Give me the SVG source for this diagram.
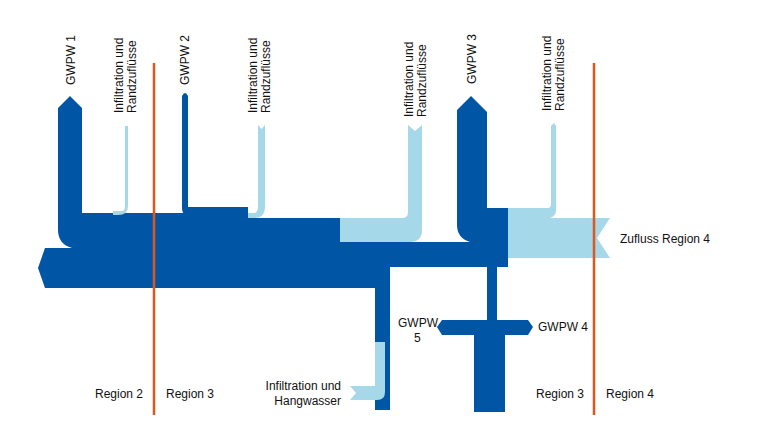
<svg xmlns="http://www.w3.org/2000/svg" width="760" height="440" viewBox="0 0 760 440">
<style>
.d{fill:#0055a4}.l{fill:#a5d8e8}.r{stroke:#e0561f;stroke-width:2.5}
text{font-family:"Liberation Sans",Arial,sans-serif;font-size:12px;fill:#111}
</style>
<rect width="760" height="440" fill="#fff"/>
<g id="flows">
<path class="d" d="M58 108 L70 96 L82 108 L82 213 L248 213 L248 218 L340 218 L340 242 L508 242 L508 267 L390 267 L390 288 L45 288 L38 268 L45 248 L72 248 Q58 244 58 230 Z"/>
<path class="d" d="M390 267 L390 410 L375 410 L375 282 Q375 270 365 267 Z"/>
<path class="d" d="M182 96 Q185 90 188 96 L188 207 L248 207 L248 218 L195 218 Q182 218 182 208 Z"/>
<path class="l" d="M125 126 L128 126 L128 206 Q128 215 118 215 L113 215 L113 211 L122 211 Q125 211 125 206 Z"/>
<path class="l" d="M258 125 L261.5 129 L265 125 L265 206 Q265 218 255 218 L248 218 L248 213 L254 213 Q258 213 258 206 Z"/>
<path class="l" d="M408 125 L415 131 L422 125 L422 230 Q422 242 410 242 L340 242 L340 218 L402 218 Q408 218 408 212 Z"/>
<path class="d" d="M457 110 L471 96 L487 112 L487 208 L508 208 L508 242 L470 242 Q457 238 457 225 Z"/>
<path class="l" d="M508 208 L548 208 Q551 208 551 204 L551 126 L554 123 L556 126 L556 210 Q556 216 550 218 L610 218 L597 238 L610 258 L508 258 Z"/>
<path class="l" d="M375 342 L385 342 L385 392 Q385 400 377 400 L350 400 L356 393 L350 386 L375 386 Z"/>
<path class="d" d="M487 267 L497 267 L497 320 L528 320 L533 327 L528 335 L505 335 L505 412 L474 412 L474 335 L442 335 L437 327 L442 320 L487 320 Z"/>
</g>
<g id="regions">
<line class="r" x1="154" y1="63" x2="154" y2="415"/>
<line class="r" x1="594" y1="63" x2="594" y2="415"/>
</g>
<g id="labels">
<text transform="translate(75,85) rotate(-90)">GWPW 1</text>
<text transform="translate(123,113) rotate(-90)">Infiltration und</text>
<text transform="translate(136,113) rotate(-90)">Randzuflüsse</text>
<text transform="translate(189,85) rotate(-90)">GWPW 2</text>
<text transform="translate(257,113) rotate(-90)">Infiltration und</text>
<text transform="translate(270,113) rotate(-90)">Randzuflüsse</text>
<text transform="translate(413,117) rotate(-90)">Infiltration und</text>
<text transform="translate(426,117) rotate(-90)">Randzuflüsse</text>
<text transform="translate(476,84) rotate(-90)">GWPW 3</text>
<text transform="translate(551,111) rotate(-90)">Infiltration und</text>
<text transform="translate(564,111) rotate(-90)">Randzuflüsse</text>
<text x="620" y="243">Zufluss Region 4</text>
<text x="538" y="331">GWPW 4</text>
<text x="398" y="327">GWPW</text>
<text x="414" y="342">5</text>
<text x="341" y="390" text-anchor="end">Infiltration und</text>
<text x="341" y="405" text-anchor="end">Hangwasser</text>
<text x="95" y="398">Region 2</text>
<text x="166" y="398">Region 3</text>
<text x="536" y="398">Region 3</text>
<text x="606" y="398">Region 4</text>
</g>
</svg>
